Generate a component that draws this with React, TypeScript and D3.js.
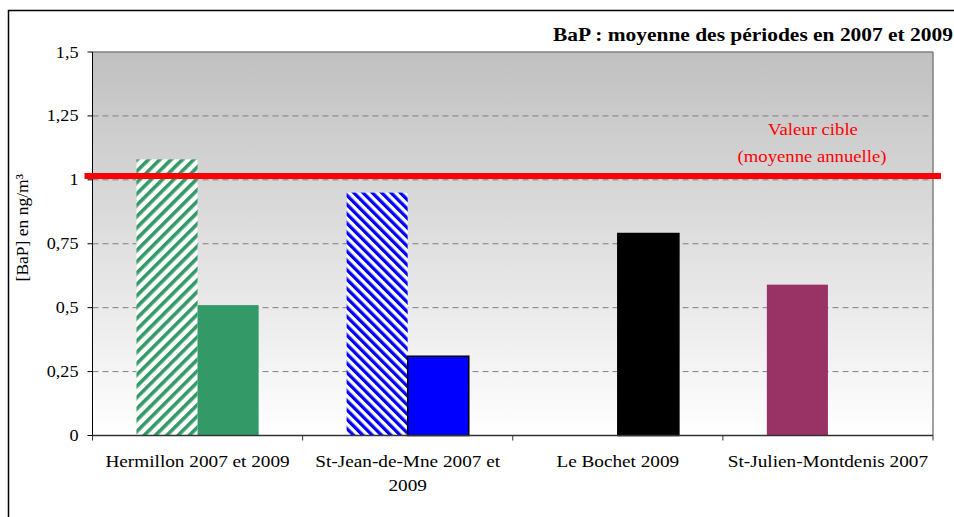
import React from "react";
import * as d3 from "d3";

const categories = ["Hermillon 2007 et 2009", "St-Jean-de-Mne 2007 et 2009", "Le Bochet 2009", "St-Julien-Montdenis 2007"];
const categoryLabelLines = [["Hermillon 2007 et 2009"], ["St-Jean-de-Mne 2007 et", "2009"], ["Le Bochet 2009"], ["St-Julien-Montdenis 2007"]];
const seriesNames = ["2007", "2009"];
const values2007: (number | null)[] = [1.08, 0.95, null, 0.59];
const values2009: (number | null)[] = [0.51, 0.31, 0.79, null];
const yTicks = [0, 0.25, 0.5, 0.75, 1, 1.25, 1.5];
const yTickLabels = ["0", "0,25", "0,5", "0,75", "1", "1,25", "1,5"];
const targetValue = 1.015;
const title = "BaP : moyenne des périodes en 2007 et 2009";
const yTitle = "[BaP] en ng/m³";
const targetLabel = ["Valeur cible", "(moyenne annuelle)"];

const W = 954, H = 517;
const M = { left: 92.5, right: 933, top: 52, bottom: 435.5 };
const FONT = "'Liberation Serif', 'Times New Roman', serif";
const SX = 1.1;

const catColors = ["#339966", "#0000ff", "#000000", "#993366"];
// fill style per [category][series]
const fillStyle = [
  ["url(#hatchGreen)", "#339966"],
  ["url(#hatchBlue)", "#0000ff"],
  ["#000000", "#000000"],
  ["#993366", "#993366"],
];
const strokeStyle = [
  ["none", "none"],
  ["none", "#000"],
  ["#000", "#000"],
  ["none", "none"],
];

function Txt({ x, y, anchor = "middle", size, fill = "#000", weight = "normal", children }: any) {
  return (
    <text
      transform={`translate(${x},${y}) scale(${SX},1)`}
      textAnchor={anchor}
      fontFamily={FONT}
      fontSize={size}
      fontWeight={weight}
      fill={fill}
    >
      {children}
    </text>
  );
}

export default function App() {
  const x = d3.scaleBand<string>().domain(categories).range([M.left, M.right]).paddingInner(0).paddingOuter(0);
  const xs = d3.scaleBand<string>().domain(seriesNames).range([0, x.bandwidth()]).paddingInner(0).paddingOuter(0.72);
  const y = d3.scaleLinear().domain([0, 1.5]).range([M.bottom, M.top]);
  const seriesValues = [values2007, values2009];

  const bars: any[] = [];
  categories.forEach((c, ci) => {
    seriesNames.forEach((s, si) => {
      const v = seriesValues[si][ci];
      if (v == null) return;
      bars.push(
        <rect
          key={`${ci}-${si}`}
          x={(x(c) as number) + (xs(s) as number)}
          y={y(v)}
          width={xs.bandwidth()}
          height={y(0) - y(v)}
          fill={fillStyle[ci][si]}
          stroke={strokeStyle[ci][si]}
          strokeWidth={1.5}
        />
      );
    });
  });

  const boundaries = [...categories.map((c) => x(c) as number), M.right];
  const ty = y(targetValue);

  return (
    <svg width={W} height={H} style={{ position: "absolute", left: 0, top: 0, background: "#fff" }}>
      <defs>
        <linearGradient id="bg" x1="0" y1="0" x2="0" y2="1">
          <stop offset="0" stopColor="#c0c0c0" />
          <stop offset="1" stopColor="#ffffff" />
        </linearGradient>
        <pattern id="hatchGreen" patternUnits="userSpaceOnUse" width={8} height={8} patternTransform="rotate(45)">
          <rect width={8} height={8} fill="#fff" />
          <rect x={0} y={0} width={3.6} height={8} fill={catColors[0]} />
        </pattern>
        <pattern id="hatchBlue" patternUnits="userSpaceOnUse" width={6.6} height={6.6} patternTransform="rotate(-45)">
          <rect width={6.6} height={6.6} fill="#fff" />
          <rect x={0} y={0} width={3.3} height={6.6} fill={catColors[1]} />
        </pattern>
      </defs>
      <rect x={8.5} y={10.5} width={980} height={540} fill="#fff" stroke="#000" strokeWidth={1.5} />
      <rect x={M.left} y={M.top} width={M.right - M.left} height={M.bottom - M.top} fill="url(#bg)" />
      {/* gridlines */}
      {yTicks.filter((t) => t > 0 && t < 1.5).map((t) => (
        <line key={t} x1={M.left} x2={M.right} y1={y(t)} y2={y(t)} stroke="#808080" strokeWidth={1} strokeDasharray="6,4" />
      ))}
      {/* plot border top/right */}
      <line x1={M.left} x2={M.right} y1={M.top} y2={M.top} stroke="#808080" strokeWidth={1.5} />
      <line x1={M.right} x2={M.right} y1={M.top} y2={M.bottom} stroke="#808080" strokeWidth={1.5} />
      {bars}
      {/* axes */}
      <line x1={M.left} x2={M.left} y1={M.top} y2={M.bottom} stroke="#000" strokeWidth={1} />
      {yTicks.map((t, i) => (
        <g key={t}>
          <line x1={M.left - 5} x2={M.left} y1={y(t)} y2={y(t)} stroke="#000" />
          <Txt x={M.left - 14} y={y(t) + 5.5} anchor="end" size={16.5}>{yTickLabels[i]}</Txt>
        </g>
      ))}
      <line x1={M.left} x2={M.right} y1={M.bottom} y2={M.bottom} stroke="#333" strokeWidth={1.5} />
      {boundaries.map((b, i) => (
        <line key={i} x1={b} x2={b} y1={M.bottom} y2={M.bottom + 5} stroke="#333" strokeWidth={1} />
      ))}
      {categories.map((c, ci) => (
        <g key={c}>
          {categoryLabelLines[ci].map((ln, li) => (
            <Txt key={li} x={(x(c) as number) + x.bandwidth() / 2} y={467 + li * 24} size={17.5}>{ln}</Txt>
          ))}
        </g>
      ))}
      {/* target line */}
      <line x1={M.left - 8} x2={M.right + 8} y1={ty} y2={ty} stroke="#ff0000" strokeWidth={6} />
      <Txt x={M.right - 120} y={ty - 41} size={17} fill="#ff0000">{targetLabel[0]}</Txt>
      <Txt x={M.right - 121} y={ty - 14} size={17} fill="#ff0000">{targetLabel[1]}</Txt>
      {/* titles */}
      <Txt x={953} y={40.5} anchor="end" size={19.5} weight="bold">{title}</Txt>
      <text
        transform={`translate(${28},${(M.top + M.bottom) / 2 - 16}) rotate(-90)`}
        textAnchor="middle"
        fontFamily={FONT}
        fontSize={17.5}
      >
        {yTitle}
      </text>
    </svg>
  );
}
